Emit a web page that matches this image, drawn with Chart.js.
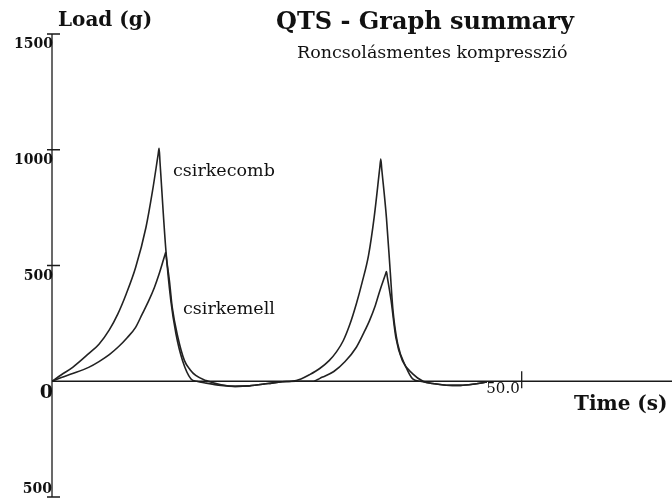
<!DOCTYPE html>
<html>
<head>
<meta charset="utf-8">
<script src="https://cdn.jsdelivr.net/npm/chart.js@4/dist/chart.umd.min.js"></script>
<style>
  html, body { margin: 0; padding: 0; background: #fff; }
</style>
</head>
<body>
<canvas id="qts" width="672" height="499"></canvas>
<script>
// csirkecomb (upper curve)
const combTime = [0, 1.0, 2.2, 3.9, 5.0, 6.1, 7.0, 7.9, 8.9, 10.0, 10.7, 11.3, 11.4, 11.5, 12.1, 12.65, 13.2, 13.9, 14.8, 15.4, 16.4, 18.0, 19.5, 21.0, 23.0, 24.5, 25.5, 26.5, 27.4, 28.5, 29.5, 30.3, 31.0, 31.7, 32.4, 33.0, 33.7, 34.3, 34.9, 35.0, 35.1, 35.6, 36.0, 36.3, 36.8, 37.7, 38.4, 39.2, 40.5, 42.0, 43.5, 45.0, 46.3];
const combLoad = [0, 28, 60, 119, 160, 222, 290, 377, 491, 664, 822, 980, 1006, 945, 578, 348, 204, 89, 10, 0, -8, -18, -22, -20, -10, -2, 0, 10, 28, 55, 89, 128, 175, 245, 335, 425, 545, 710, 925, 960, 918, 707, 477, 305, 161, 60, 10, 0, -10, -17, -18, -12, -3];

// csirkemell (lower curve)
const mellTime = [0, 1.0, 2.2, 3.9, 5.0, 6.1, 7.1, 8.0, 8.9, 9.6, 10.3, 10.9, 11.4, 12.0, 12.1, 12.2, 12.5, 12.8, 13.4, 14.1, 14.7, 15.3, 16.4, 18.0, 19.5, 21.0, 23.0, 24.5, 26.0, 27.7, 28.8, 30.0, 31.2, 32.4, 33.2, 33.8, 34.4, 34.9, 35.5, 35.6, 35.7, 36.1, 36.6, 37.3, 38.4, 39.5, 40.5, 42.0, 43.5, 45.0, 46.3];
const mellLoad = [0, 16, 33, 60, 85, 115, 150, 188, 233, 290, 348, 405, 463, 543, 556, 525, 434, 319, 190, 89, 50, 25, 3, -15, -22, -20, -10, -2, 0, 0, 18, 42, 85, 147, 210, 262, 325, 391, 462, 474, 449, 348, 190, 89, 32, 0, -10, -17, -18, -12, -3];

const yTicks = [1500, 1000, 500, 0, -500];
const yTickLabels = ["1500", "1000", "500", "0", "500"];
const xTicks = [50];
const xTickLabels = ["50.0"];

const toPoints = (ts, vs) => ts.map((t, i) => ({ x: t, y: vs[i] }));

const serif = '"DejaVu Serif", serif';

const axesAndText = {
  id: "axesAndText",
  afterDraw(chart) {
    const { ctx } = chart;
    const x = chart.scales.x;
    const y = chart.scales.y;
    const x0 = x.getPixelForValue(0);
    const y0 = y.getPixelForValue(0);

    ctx.save();
    ctx.strokeStyle = "#1a1a1a";
    ctx.lineWidth = 1.3;
    ctx.beginPath();
    ctx.moveTo(x0, y.getPixelForValue(1500));
    ctx.lineTo(x0, y.getPixelForValue(-500));
    ctx.moveTo(x0, y0);
    ctx.lineTo(x.right, y0);
    yTicks.forEach((v) => {
      if (v === 0) return;
      const py = y.getPixelForValue(v);
      ctx.moveTo(x0 - 5, py);
      ctx.lineTo(x0 + 8, py);
    });
    xTicks.forEach((v) => {
      const px = x.getPixelForValue(v);
      ctx.moveTo(px, y0 - 10);
      ctx.lineTo(px, y0 + 7);
    });
    ctx.stroke();

    ctx.fillStyle = "#111";
    ctx.textAlign = "right";
    ctx.textBaseline = "alphabetic";
    yTicks.forEach((v, i) => {
      const py = y.getPixelForValue(v);
      if (v === 0) {
        ctx.font = "bold 19px " + serif;
        ctx.fillText(yTickLabels[i], x0 + 1, py + 17);
      } else if (v < 0) {
        ctx.font = "bold 14px " + serif;
        ctx.fillText(yTickLabels[i], x0, py - 4);
      } else {
        ctx.font = "bold 14px " + serif;
        ctx.fillText(yTickLabels[i], x0 + 1, py + 14);
      }
    });
    xTicks.forEach((v, i) => {
      const px = x.getPixelForValue(v);
      ctx.font = "15px " + serif;
      ctx.fillText(xTickLabels[i], px - 2, y0 + 12);
    });

    ctx.textAlign = "left";
    ctx.font = "bold 20px " + serif;
    ctx.fillText("Load (g)", 58, 26);
    ctx.font = "bold 24px " + serif;
    ctx.fillText("QTS - Graph summary", 276, 29);
    ctx.font = "17.5px " + serif;
    ctx.fillText("Roncsolásmentes kompresszió", 297, 58);
    ctx.fillText("csirkecomb", 173, 176);
    ctx.fillText("csirkemell", 183, 314);
    ctx.font = "bold 20px " + serif;
    ctx.fillText("Time (s)", 574, 410);
    ctx.restore();
  }
};

new Chart(document.getElementById("qts"), {
  type: "line",
  data: {
    datasets: [
      {
        label: "csirkecomb",
        data: toPoints(combTime, combLoad),
        borderColor: "#222",
        borderWidth: 1.6,
        pointRadius: 0,
        cubicInterpolationMode: "monotone",
        fill: false,
      },
      {
        label: "csirkemell",
        data: toPoints(mellTime, mellLoad),
        borderColor: "#222",
        borderWidth: 1.6,
        pointRadius: 0,
        cubicInterpolationMode: "monotone",
        fill: false,
      },
    ],
  },
  options: {
    responsive: false,
    animation: false,
    devicePixelRatio: 1,
    layout: { padding: { left: 52, top: 34, right: 0, bottom: 2 } },
    plugins: {
      legend: { display: false },
      tooltip: { enabled: false },
      title: { display: false },
    },
    scales: {
      x: { type: "linear", min: 0, max: 66, display: false },
      y: { min: -500, max: 1500, display: false },
    },
  },
  plugins: [axesAndText],
});
</script>
</body>
</html>
